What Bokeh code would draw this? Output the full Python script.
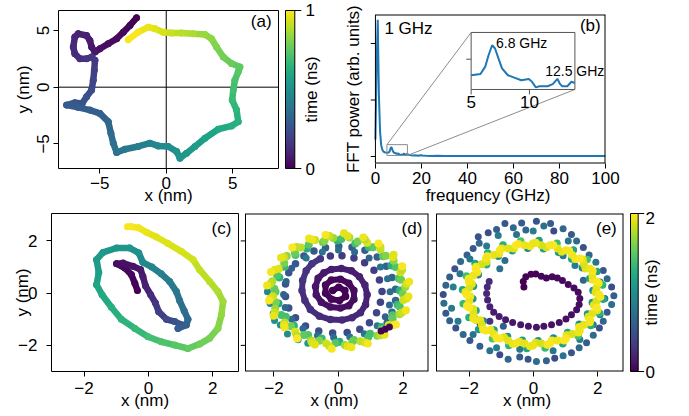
import numpy as np
from bokeh.plotting import figure
from bokeh.models import ColumnDataSource, Range1d, FixedTicker, Span, LinearColorMapper
from bokeh.transform import linear_cmap
from bokeh.palettes import Viridis256
from bokeh.layouts import row, column
from bokeh.embed import file_html
from bokeh.resources import INLINE
from bokeh.core.properties import value

FONT = "Liberation Sans"
FS = "17px"

# ---------------- (a) trajectory, 1 ns ----------------
a_x = [-2.23, -2.73, -3.23, -3.73, -4.36, -4.99, -5.36, -5.61, -5.74, -5.99, -6.62, -6.87, -6.99, -6.87,
       -6.49, -5.99, -5.61, -5.36, -5.41, -5.49, -5.61, -5.99, -6.32, -6.87, -7.49, -6.62, -5.74, -4.99,
       -4.36, -4.16, -3.98, -3.73, -3.11, -2.11, -1.23, -0.60, 0.15, 0.78, 1.03, 1.53, 2.16, 2.91, 3.91,
       4.91, 5.41, 5.29, 4.96, 5.04, 5.16, 5.41, 5.54, 4.91, 4.29, 3.78, 3.41, 2.91, 2.03, 1.15, 0.40,
       -0.23, -0.85, -1.35, -2.11, -2.86]
a_y = [6.11, 5.44, 4.85, 4.27, 3.83, 3.39, 3.10, 3.54, 4.12, 4.56, 4.71, 4.42, 3.54, 2.95, 2.51, 2.51,
       2.66, 2.37, 1.49, 0.61, -0.26, -0.85, -1.43, -1.37, -1.58, -1.78, -2.02, -2.31, -3.04, -4.06,
       -4.94, -5.76, -5.47, -5.23, -4.94, -5.18, -5.23, -5.67, -6.26, -5.82, -5.23, -4.50, -3.71, -3.42,
       -3.04, -2.02, -1.14, -0.26, 0.61, 1.35, 1.78, 2.08, 2.66, 3.54, 4.27, 4.65, 4.71, 4.77, 4.77,
       4.85, 5.15, 5.29, 4.85, 4.18]
a_t = [0.00, 0.01, 0.02, 0.03, 0.04, 0.05, 0.06, 0.07, 0.08, 0.09, 0.10, 0.11, 0.12, 0.13, 0.14, 0.15,
       0.16, 0.17, 0.19, 0.21, 0.23, 0.25, 0.26, 0.27, 0.28, 0.29, 0.30, 0.31, 0.33, 0.35, 0.37, 0.38,
       0.40, 0.43, 0.45, 0.47, 0.49, 0.51, 0.52, 0.54, 0.56, 0.58, 0.61, 0.63, 0.64, 0.66, 0.68, 0.70,
       0.72, 0.74, 0.75, 0.77, 0.79, 0.81, 0.83, 0.85, 0.88, 0.90, 0.92, 0.94, 0.96, 0.97, 0.99, 1.00]

# ---------------- (b) FFT ----------------
freq = [0.0, 0.5, 1.0, 1.5, 2.0, 2.5, 3.0, 3.5, 4.0, 4.5, 5.0, 5.8, 6.2, 6.5, 6.8, 7.05, 7.35, 7.65,
        8.15, 8.7, 9.3, 9.95, 10.2, 10.55, 10.85, 11.55, 12.0, 12.4, 12.6, 12.8, 13.25, 13.6, 13.9,
        14.5, 15.5, 16.5, 17.5, 18.5, 19.5, 20.5, 22, 24, 27, 30, 35, 40, 45, 50, 55, 60, 65, 70, 75,
        80, 85, 90, 95, 100]
power = [0.30, 1.60, 2.42, 1.10, 0.45, 0.20, 0.12, 0.085, 0.075, 0.07, 0.066, 0.070, 0.094, 0.134,
         0.167, 0.156, 0.122, 0.089, 0.066, 0.058, 0.049, 0.053, 0.045, 0.025, 0.029, 0.029, 0.036,
         0.054, 0.038, 0.029, 0.029, 0.044, 0.040, 0.030, 0.022, 0.018, 0.020, 0.014, 0.022, 0.016,
         0.012, 0.010, 0.012, 0.008, 0.010, 0.007, 0.009, 0.008, 0.010, 0.007, 0.009, 0.008, 0.010,
         0.007, 0.009, 0.008, 0.010, 0.008]
inset_xlim = [5.0, 13.9]
inset_ylim = [0.018, 0.21]
inset_xticks = [5, 10]
inset_yticks = [0.12]

# ---------------- (c) trajectory, 1 ns ----------------
c_x = [-0.34, -0.42, -0.53, -0.73, -0.99, -0.79, -0.48, -0.24, -0.17, -0.09, 0.07, 0.22, 0.32, 0.56,
       0.82, 1.05, 0.92, 1.18, 1.23, 1.11, 0.97, 0.87, 0.66, 0.40, 0.11, -0.17, -0.30, -0.58, -0.99,
       -1.41, -1.61, -1.54, -1.61, -1.44, -1.15, -0.84, -0.42, -0.01, 0.40, 0.82, 1.23, 1.59, 1.90,
       2.16, 2.27, 2.32, 2.16, 1.90, 1.59, 1.39, 1.02, 0.61, 0.25, -0.06, -0.30, -0.53, -0.65]
c_y = [0.10, 0.38, 0.71, 0.96, 1.13, 1.15, 1.03, 0.90, 0.64, 0.28, -0.06, -0.38, -0.71, -1.00, -1.09,
       -1.22, -1.35, -1.22, -1.00, -0.67, -0.28, 0.06, 0.45, 0.74, 1.00, 1.18, 1.54, 1.73, 1.73, 1.56,
       1.28, 0.79, 0.32, -0.06, -0.54, -1.00, -1.35, -1.67, -1.86, -1.99, -2.12, -1.95, -1.73, -1.35,
       -0.83, -0.32, 0.06, 0.45, 0.90, 1.28, 1.60, 1.90, 2.15, 2.33, 2.50, 2.54, 2.54]
c_t = [0.00, 0.01, 0.02, 0.03, 0.04, 0.05, 0.06, 0.07, 0.08, 0.10, 0.13, 0.16, 0.19, 0.22, 0.25, 0.28,
       0.30, 0.32, 0.34, 0.36, 0.38, 0.40, 0.42, 0.44, 0.46, 0.48, 0.50, 0.52, 0.53, 0.54, 0.55, 0.57,
       0.59, 0.61, 0.63, 0.65, 0.67, 0.70, 0.72, 0.74, 0.76, 0.78, 0.80, 0.82, 0.84, 0.86, 0.88, 0.90,
       0.91, 0.93, 0.94, 0.95, 0.96, 0.97, 0.98, 0.99, 1.00]

# ---------------- (d) trajectory, 2 ns ----------------
d_sp_x = [-0.18, 0.01, 0.20, 0.22, 0.03, -0.22, -0.40, -0.40, -0.22, 0.06, 0.32, 0.48, 0.48, 0.32,
          0.06, -0.25, -0.53, -0.69, -0.71, -0.63, -0.45, -0.22, 0.09, 0.40, 0.65, 0.82, 0.89, 0.84,
          0.68, 0.42, 0.11, -0.25, -0.59, -0.87, -1.04, -1.13, -1.11, -1.00, -0.82, -0.56, -0.25, 0.11,
          0.48, 0.81, 1.10, 1.27, 1.35, 1.30, 1.18, 0.96, 0.66, 0.27, -0.18, -0.61, -1.02, -1.33, -1.54,
          -1.64, -1.64, -1.54, -1.33, -1.07, -0.76, -0.40, 0.01, 0.42, 0.82, 1.20, 1.48, 1.66, 1.77,
          1.77, 1.66, 1.51]
d_sp_y = [0.10, 0.23, 0.10, -0.13, -0.28, -0.23, 0.00, 0.31, 0.50, 0.53, 0.38, 0.10, -0.23, -0.48,
          -0.57, -0.53, -0.35, -0.06, 0.25, 0.57, 0.78, 0.91, 0.94, 0.86, 0.63, 0.31, -0.06, -0.44,
          -0.75, -0.94, -1.03, -1.01, -0.88, -0.63, -0.28, 0.10, 0.48, 0.86, 1.13, 1.32, 1.42, 1.43,
          1.35, 1.16, 0.88, 0.50, 0.06, -0.35, -0.75, -1.13, -1.38, -1.51, -1.53, -1.45, -1.26, -0.94,
          -0.57, -0.13, 0.35, 0.78, 1.13, 1.42, 1.61, 1.74, 1.80, 1.76, 1.64, 1.38, 1.03, 0.60, 0.15,
          -0.28, -0.73, -1.13]
d_sp_t = [0.00, 0.01, 0.01, 0.02, 0.02, 0.03, 0.03, 0.04, 0.04, 0.05, 0.05, 0.06, 0.07, 0.07, 0.08,
          0.09, 0.10, 0.11, 0.12, 0.13, 0.14, 0.15, 0.16, 0.17, 0.18, 0.19, 0.20, 0.21, 0.22, 0.23,
          0.24, 0.25, 0.26, 0.27, 0.28, 0.29, 0.30, 0.31, 0.32, 0.33, 0.34, 0.35, 0.36, 0.37, 0.38,
          0.39, 0.40, 0.41, 0.42, 0.43, 0.44, 0.45, 0.46, 0.47, 0.48, 0.49, 0.50, 0.51, 0.52, 0.53,
          0.55, 0.56, 0.57, 0.58, 0.59, 0.60, 0.61, 0.62, 0.63, 0.64, 0.65, 0.66, 0.67, 0.68]
d_mid_x = [-1.45, -1.62, -1.70, -1.65, -1.45, -1.10, -0.65, -0.15, 0.35, 0.80, 1.20, 1.45, 1.58, 1.60,
           1.52, 1.30, 0.95, 0.50, 0.00, -0.50, -1.00]
d_mid_y = [0.95, 0.45, -0.05, -0.55, -1.00, -1.35, -1.62, -1.70, -1.68, -1.55, -1.25, -0.90, -0.45,
           0.05, 0.55, 1.00, 1.35, 1.58, 1.65, 1.58, 1.35]
d_mid_t = [0.60, 0.62, 0.64, 0.66, 0.68, 0.70, 0.72, 0.74, 0.76, 0.78, 0.80, 0.62, 0.66, 0.70, 0.74,
           0.78, 0.64, 0.68, 0.72, 0.76, 0.80]
d_teal_x = [-2.12, -2.02, -1.80, -1.58, -1.25, -0.95, -2.20, -1.98]
d_teal_y = [-0.40, -0.78, -1.22, -1.56, -1.78, -1.92, 0.05, -1.05]
d_teal_t = [0.95, 1.00, 1.05, 0.98, 1.02, 1.08, 0.92, 1.00]
d_r1_x = [1.90, 1.87, 1.64, 1.38, 0.94, 0.52, -0.03, -0.48, -0.98, -1.33, -1.68, -1.83, -1.95, -1.86,
          -1.63, -1.38, -0.94, -0.52, 0.03, 0.48, 0.98, 1.34, 1.68, 1.83]
d_r1_y = [0.10, 0.56, 1.06, 1.41, 1.76, 1.90, 2.02, 1.95, 1.71, 1.46, 1.01, 0.60, 0.05, -0.40, -0.90,
          -1.25, -1.60, -1.74, -1.86, -1.79, -1.55, -1.30, -0.85, -0.44]
d_r1_t = [1.30, 1.45, 1.25, 1.50, 1.35, 1.40, 1.30, 1.55, 1.25, 1.45, 1.35, 1.30, 1.50, 1.20, 1.40,
          1.30, 1.45, 1.35, 1.25, 1.50, 1.40, 1.30, 1.45, 1.35]
d_r5_x = [1.94, 1.77, 1.47, 1.07, 0.60, 0.09, -0.43, -0.92, -1.35, -1.68, -1.90, -1.99, -1.94, -1.77,
          -1.47, -1.07, -0.60, -0.09, 0.43, 0.92, 1.35, 1.68, 1.90, 1.99]
d_r5_y = [0.51, 1.00, 1.43, 1.76, 1.98, 2.07, 2.02, 1.85, 1.55, 1.15, 0.68, 0.17, -0.35, -0.84, -1.27,
          -1.60, -1.82, -1.91, -1.86, -1.69, -1.39, -0.99, -0.52, -0.01]
d_r5_t = [1.55, 1.45, 1.62, 1.50, 1.58, 1.40, 1.65, 1.48, 1.55, 1.60, 1.45, 1.52, 1.60, 1.42, 1.58,
          1.50, 1.63, 1.47, 1.55, 1.40, 1.60, 1.52, 1.45, 1.57]
d_r2_x = [2.07, 1.92, 1.71, 1.30, 0.89, 0.34, -0.16, -0.72, -1.16, -1.60, -1.85, -2.05, -2.03, -1.96,
          -1.67, -1.34, -0.85, -0.38, 0.20, 0.68, 1.20, 1.56, 1.89, 2.01]
d_r2_y = [0.24, 0.80, 1.24, 1.68, 1.93, 2.13, 2.11, 2.04, 1.75, 1.42, 0.93, 0.46, -0.12, -0.60, -1.12,
          -1.48, -1.81, -1.93, -1.99, -1.84, -1.63, -1.22, -0.81, -0.26]
d_r2_t = [1.70, 1.85, 1.65, 1.80, 1.90, 1.75, 1.70, 1.85, 1.80, 1.65, 1.90, 1.75, 1.85, 1.70, 1.80,
          1.90, 1.75, 1.85, 1.70, 1.80, 1.65, 1.90, 1.75, 1.85]
d_r4_x = [2.11, 1.97, 1.69, 1.30, 0.82, 0.28, -0.28, -0.82, -1.30, -1.69, -1.97, -2.11, -2.11, -1.97,
          -1.69, -1.30, -0.82, -0.28, 0.28, 0.82, 1.30, 1.69, 1.97, 2.11]
d_r4_y = [0.36, 0.90, 1.38, 1.77, 2.05, 2.19, 2.19, 2.05, 1.77, 1.38, 0.90, 0.36, -0.20, -0.74, -1.22,
          -1.61, -1.89, -2.03, -2.03, -1.89, -1.61, -1.22, -0.74, -0.20]
d_r4_t = [1.88, 1.80, 1.92, 1.85, 1.78, 1.90, 1.83, 1.95, 1.80, 1.87, 1.92, 1.82, 1.89, 1.85, 1.93,
          1.80, 1.88, 1.84, 1.91, 1.86, 1.79, 1.90, 1.84, 1.88]
d_r3_x = [2.19, 1.97, 1.71, 1.24, 0.77, 0.17, -0.40, -0.91, -1.43, -1.78, -2.09, -2.21, -2.15, -2.01,
          -1.67, -1.28, -0.73, -0.21, 0.40, 0.91, 1.43, 1.78, 2.09, 2.17]
d_r3_y = [0.44, 1.03, 1.47, 1.90, 2.13, 2.29, 2.23, 2.09, 1.75, 1.36, 0.81, 0.29, -0.28, -0.87, -1.31,
          -1.74, -1.97, -2.13, -2.07, -1.93, -1.59, -1.20, -0.65, -0.13]
d_r3_t = [1.95, 1.98, 1.90, 2.00, 1.95, 1.92, 1.98, 1.95, 2.00, 1.93, 1.97, 1.95, 1.99, 1.94, 1.96,
          2.00, 1.92, 1.98, 1.95, 1.97, 1.93, 2.00, 1.96, 1.94]
d_dark_x = [1.32, 1.45, 1.58]
d_dark_y = [-1.45, -1.38, -1.30]
d_dark_t = [0.02, 0.02, 0.03]

# ---------------- (e) trajectory, 2 ns ----------------
e_in_x = [-0.30, -0.32, -0.24, -0.08, 0.07, 0.24, 0.40, 0.58, 0.74, 0.90, 1.08, 1.26, 1.39, 1.44, 1.42,
          1.34, 1.18, 1.01, 0.80, 0.56, 0.32, 0.09, -0.16, -0.40, -0.65, -0.87, -1.07, -1.24, -1.36,
          -1.43, -1.46, -1.44, -1.38]
e_in_y = [0.24, 0.45, 0.63, 0.72, 0.73, 0.65, 0.58, 0.63, 0.58, 0.48, 0.33, 0.20, 0.03, -0.20, -0.43,
          -0.64, -0.83, -0.99, -1.12, -1.21, -1.27, -1.31, -1.27, -1.21, -1.12, -1.02, -0.89, -0.73,
          -0.52, -0.26, -0.01, 0.24, 0.45]
e_in_t = [0.00, 0.01, 0.01, 0.02, 0.02, 0.03, 0.03, 0.04, 0.04, 0.05, 0.05, 0.06, 0.06, 0.07, 0.07,
          0.08, 0.08, 0.09, 0.09, 0.10, 0.10, 0.11, 0.11, 0.12, 0.13, 0.14, 0.15, 0.16, 0.18, 0.20,
          0.22, 0.24, 0.26]
e_out_x = [-0.89, -1.15, -1.41, -0.63, -0.37, -0.24, 0.09, 0.32, 0.53, 0.63, 0.92, 1.18, 1.34, 1.55,
           1.73, 1.94, 2.17, 2.29, 2.43, 2.50, 2.43, 2.29, 2.17, 2.05, 1.86, 1.65, 1.42, 1.18, 0.92,
           0.66, 0.40, 0.09, -0.17, -0.43, -0.79, -1.05, -1.36, -1.67, -1.98, -2.19, -2.42, -2.61,
           -2.73, -2.79, -2.81, -2.73, -2.61, -2.45, -2.27, -2.07, -1.88, -1.69, -1.72, -1.10, -0.53,
           -0.01, 1.08, 2.07, 2.22, 2.07, 1.86, 1.44, 0.61, -0.43, -1.15, -1.88, -2.35, -2.55, -2.50,
           -2.29, -1.98, -1.46]
e_out_y = [2.67, 2.44, 2.31, 2.50, 2.69, 2.42, 2.75, 2.57, 2.67, 2.38, 2.47, 2.25, 2.00, 1.75, 1.46,
           1.18, 0.87, 0.55, 0.24, -0.10, -0.43, -0.73, -1.08, -1.33, -1.61, -1.90, -2.09, -2.28,
           -2.40, -2.49, -2.59, -2.62, -2.53, -2.44, -2.53, -2.36, -2.21, -2.03, -1.81, -1.58, -1.33,
           -1.06, -0.77, -0.39, -0.05, 0.30, 0.62, 0.93, 1.21, 1.46, 1.71, 1.91, 2.16, 2.21, 2.25,
           2.38, 2.00, 0.43, -0.20, -0.83, -1.21, -1.77, -2.21, -2.15, -2.09, -1.58, -1.08, -0.58,
           0.24, 0.74, 1.31, 1.81]
e_out_t = [0.55, 0.62, 0.48, 0.70, 0.58, 0.66, 0.52, 0.75, 0.60, 0.45, 0.68, 0.56, 0.72, 0.50, 0.64,
           0.78, 0.54, 0.69, 0.47, 0.61, 0.73, 0.57, 0.65, 0.49, 0.71, 0.59, 0.67, 0.53, 0.76, 0.46,
           0.63, 0.70, 0.51, 0.58, 0.66, 0.44, 0.74, 0.60, 0.55, 0.68, 0.50, 0.62, 0.57, 0.72, 0.48,
           0.65, 0.59, 0.53, 0.70, 0.61, 0.56, 0.66, 0.52, 0.80, 0.74, 0.85, 0.78, 0.82, 0.76, 0.88,
           0.79, 0.84, 0.77, 0.81, 0.86, 0.75, 0.83, 0.79, 0.87, 0.80, 0.78, 0.84]
e_mid_x = [-0.89, -1.05, 0.92, 1.29, 1.55, 1.70, -0.94, -1.36, -1.83, -1.67]
e_mid_y = [1.25, 0.93, 1.43, 1.06, 0.49, -0.83, -1.27, -1.08, -0.96, -1.14]
e_mid_t = [0.70, 0.75, 0.80, 0.85, 0.65, 0.90, 0.60, 0.30, 0.25, 0.28]
e_rA_x = [1.85, 1.75, 1.52, 1.19, 0.78, 0.31, -0.18, -0.66, -1.10, -1.46, -1.72, -1.87, -1.89, -1.79,
          -1.56, -1.23, -0.81, -0.35, 0.14, 0.62, 1.06, 1.42, 1.68, 1.83]
e_rA_y = [0.10, 0.56, 0.97, 1.31, 1.56, 1.70, 1.72, 1.62, 1.41, 1.09, 0.70, 0.26, -0.21, -0.66, -1.07,
          -1.41, -1.66, -1.80, -1.82, -1.72, -1.51, -1.19, -0.80, -0.36]
e_rA_t = [1.00, 1.10, 0.95, 1.20, 1.05, 1.15, 0.90, 1.10, 1.00, 1.25, 0.95, 1.10, 1.05, 1.20, 0.90,
          1.15, 1.00, 1.10, 1.05, 0.95, 1.20, 1.00, 1.10, 1.05]
e_rC_x = [2.15, 1.97, 1.67, 1.24, 0.73, 0.17, -0.40, -0.95, -1.43, -1.82, -2.09, -2.21, -2.19, -2.01,
          -1.71, -1.28, -0.77, -0.21, 0.36, 0.91, 1.39, 1.78, 2.05, 2.17]
e_rC_y = [0.31, 0.83, 1.29, 1.65, 1.91, 2.02, 2.00, 1.84, 1.54, 1.14, 0.66, 0.13, -0.41, -0.93, -1.39,
          -1.75, -2.00, -2.12, -2.10, -1.94, -1.64, -1.24, -0.76, -0.23]
e_rC_t = [1.30, 1.15, 1.40, 1.20, 1.35, 1.10, 1.45, 1.25, 1.30, 1.15, 1.40, 1.20, 1.35, 1.25, 1.10,
          1.45, 1.30, 1.20, 1.35, 1.15, 1.40, 1.25, 1.30, 1.20]
e_rB4_x = [1.93, 1.84, 1.62, 1.30, 0.88, 0.40, -0.11, -0.61, -1.07, -1.46, -1.75, -1.92, -1.97, -1.88,
           -1.66, -1.34, -0.92, -0.44, 0.07, 0.57, 1.03, 1.42, 1.71, 1.88]
e_rB4_y = [0.03, 0.51, 0.94, 1.31, 1.59, 1.76, 1.80, 1.71, 1.51, 1.20, 0.80, 0.35, -0.13, -0.61, -1.04,
           -1.41, -1.69, -1.86, -1.90, -1.81, -1.61, -1.30, -0.90, -0.45]
e_rB4_t = [1.92, 1.95, 1.90, 1.97, 1.93, 1.89, 1.96, 1.91, 1.94, 1.88, 1.97, 1.92, 1.95, 1.90, 1.93,
           1.96, 1.91, 1.94, 1.89, 1.97, 1.92, 1.95, 1.90, 1.93]
e_rB2_x = [1.96, 1.83, 1.57, 1.20, 0.75, 0.24, -0.28, -0.79, -1.24, -1.61, -1.87, -2.00, -2.00, -1.87,
           -1.61, -1.24, -0.79, -0.28, 0.24, 0.75, 1.20, 1.57, 1.83, 1.96]
e_rB2_y = [0.20, 0.68, 1.11, 1.46, 1.71, 1.83, 1.83, 1.71, 1.46, 1.11, 0.68, 0.20, -0.30, -0.78, -1.21,
           -1.56, -1.81, -1.93, -1.93, -1.81, -1.56, -1.21, -0.78, -0.30]
e_rB2_t = [1.90, 1.93, 1.88, 1.95, 1.91, 1.86, 1.94, 1.90, 1.92, 1.87, 1.95, 1.89, 1.93, 1.91, 1.88,
           1.94, 1.90, 1.92, 1.86, 1.95, 1.89, 1.93, 1.91, 1.88]
e_rB3_x = [2.03, 1.84, 1.53, 1.11, 0.61, 0.07, -0.47, -0.99, -1.44, -1.79, -2.02, -2.12, -2.07, -1.88,
           -1.57, -1.15, -0.65, -0.11, 0.43, 0.95, 1.40, 1.75, 1.98, 2.08]
e_rB3_y = [0.38, 0.86, 1.29, 1.62, 1.84, 1.93, 1.88, 1.71, 1.41, 1.01, 0.55, 0.04, -0.48, -0.96, -1.39,
           -1.72, -1.94, -2.03, -1.98, -1.81, -1.51, -1.11, -0.65, -0.14]
e_rB3_t = [1.96, 1.99, 1.93, 1.98, 2.00, 1.95, 1.97, 1.94, 1.99, 1.96, 1.98, 1.93, 2.00, 1.95, 1.97,
           1.99, 1.94, 1.96, 1.98, 2.00, 1.95, 1.97, 1.93, 1.99]
e_rB_x = [2.04, 1.97, 1.76, 1.44, 1.01, 0.51, -0.02, -0.55, -1.05, -1.48, -1.80, -2.01, -2.08, -2.01,
          -1.80, -1.48, -1.05, -0.55, -0.02, 0.51, 1.01, 1.44, 1.76, 1.97]
e_rB_y = [-0.05, 0.45, 0.93, 1.33, 1.64, 1.83, 1.90, 1.83, 1.64, 1.33, 0.93, 0.45, -0.05, -0.55, -1.03,
          -1.43, -1.74, -1.93, -2.00, -1.93, -1.74, -1.43, -1.03, -0.55]
e_rB_t = [1.97, 1.99, 1.95, 2.00, 1.96, 1.98, 1.94, 2.00, 1.97, 1.95, 1.99, 1.96, 1.98, 2.00, 1.95,
          1.97, 1.99, 1.96, 1.94, 1.98, 2.00, 1.95, 1.97, 1.99]

# tick values
a_ticks = [-5, 0, 5]
b_xticks = [0, 20, 40, 60, 80, 100]
b_yticks = [0, 1, 2]
cde_ticks = [-2, 0, 2]


def no_align(p):
    try:
        p.frame_align = False
    except Exception:
        pass


def style_axes(p):
    for ax in p.axis:
        ax.axis_line_color = None
        ax.major_tick_in = 0
        ax.major_tick_out = 5
        ax.major_tick_line_color = "black"
        ax.minor_tick_line_color = None
        ax.major_label_text_font = FONT
        ax.major_label_text_font_size = FS
        ax.major_label_text_color = "black"
        ax.axis_label_text_font = FONT
        ax.axis_label_text_font_size = FS
        ax.axis_label_text_font_style = "normal"
        ax.axis_label_text_color = "black"


def base(width, height, xr, yr, left, right, top, bottom, yaxis=True, outline=True):
    p = figure(width=width, height=height, x_range=Range1d(*xr), y_range=Range1d(*yr),
               toolbar_location=None, output_backend="svg",
               y_axis_location="left" if yaxis else None,
               min_border_left=left, min_border_right=right,
               min_border_top=top, min_border_bottom=bottom,
               background_fill_color="white", border_fill_color="white")
    no_align(p)
    p.grid.visible = False
    p.outline_line_color = "black" if outline else None
    style_axes(p)
    return p


def box_with_left_ticks(p, x0, x1, y0, y1, ticks, tick_len):
    # frame drawn as glyphs: left edge inside the plotting area, other edges on its border
    p.segment(x0=[x0], y0=[y0], x1=[x0], y1=[y1], line_color="black", line_width=1)
    p.segment(x0=[x0, x0, x1], y0=[y0, y1, y0], x1=[x1, x1, x1], y1=[y0, y1, y1],
              line_color="black", line_width=2)
    n = len(ticks)
    p.segment(x0=[x0] * n, x1=[x0 - tick_len] * n, y0=ticks, y1=ticks, line_color="black",
              line_width=1)


def label(p, x, y, txt, size=FS, align="right", **kw):
    p.text(x=[x], y=[y], text=[txt], text_font=value(FONT), text_font_size=value(size),
           text_align=align, text_baseline="middle", text_color="black", **kw)


def dots(p, xs, ys, ts, tmax, size):
    src = ColumnDataSource(dict(x=xs, y=ys, t=ts))
    p.scatter("x", "y", source=src, size=size, marker="circle",
              fill_color=linear_cmap("t", Viridis256, 0, tmax), line_color=None)


def path(p, xs, ys, ts, tmax, width):
    src = ColumnDataSource(dict(x0=xs[:-1], y0=ys[:-1], x1=xs[1:], y1=ys[1:], t=ts[:-1]))
    p.segment("x0", "y0", "x1", "y1", source=src, line_width=width, line_cap="round",
              line_color=linear_cmap("t", Viridis256, 0, tmax))


def colorbar(width, height, bar_l, bar_r, top_px, bot_px, tmax, ticks, tick_len, lab_x, title_x):
    ppu = (bot_px - top_px) / tmax
    y1 = tmax + top_px / ppu
    p = figure(width=width, height=height, x_range=Range1d(0, width),
               y_range=Range1d(-(height - bot_px) / ppu, y1),
               x_axis_location=None, y_axis_location=None, toolbar_location=None,
               output_backend="svg", min_border=0, outline_line_color=None,
               background_fill_color="white", border_fill_color="white")
    no_align(p)
    p.grid.visible = False
    grad = np.linspace(0, tmax, 256).reshape(256, 1)
    p.image(image=[grad], x=bar_l, y=0, dw=bar_r - bar_l, dh=tmax,
            color_mapper=LinearColorMapper(palette=Viridis256, low=0, high=tmax))
    p.quad(left=[bar_l], right=[bar_r], bottom=[0], top=[tmax], fill_color=None,
           line_color="black", line_width=1)
    p.segment(x0=[bar_r] * len(ticks), x1=[bar_r + tick_len] * len(ticks), y0=ticks, y1=ticks,
              line_color="black", line_width=1)
    for t in ticks:
        if (y1 - t) * ppu < 12:
            # too close to the top edge: hang the label just below the edge
            p.text(x=[lab_x], y=[y1 - 3 / ppu], text=[str(t)], text_font=value(FONT),
                   text_font_size=value(FS), text_align="left", text_baseline="top",
                   text_color="black")
        else:
            p.text(x=[lab_x], y=[t], text=[str(t)], text_font=value(FONT),
                   text_font_size=value(FS), text_align="left", text_baseline="middle",
                   text_color="black")
    p.text(x=[title_x], y=[tmax / 2], text=["time (ns)"], angle=np.pi / 2, text_font=value(FONT),
           text_font_size=value(FS), text_align="center", text_baseline="middle", text_color="black")
    return p


TOP_H, BOT_H = 208, 208

# ---------------- panel (a) ----------------
pa = base(280, TOP_H, (-8.1, 8.44), (-7.17, 6.76), 58, 2, 10, 40)
pa.xaxis.ticker = FixedTicker(ticks=a_ticks)
pa.yaxis.ticker = FixedTicker(ticks=a_ticks)
pa.xaxis.axis_label = "x (nm)"
pa.yaxis.axis_label = "y (nm)"
pa.yaxis.major_label_orientation = "vertical"
pa.xaxis.major_label_standoff = 3
pa.xaxis.axis_label_standoff = -6
pa.yaxis.major_label_standoff = 4
pa.yaxis.axis_label_standoff = 2
pa.add_layout(Span(location=0, dimension="height", line_color="black", line_width=1, level="underlay"))
pa.add_layout(Span(location=0, dimension="width", line_color="black", line_width=1, level="underlay"))
dots(pa, a_x, a_y, a_t, 1.0, 7)
path(pa, a_x, a_y, a_t, 1.0, 6.5)
label(pa, 7.92, 5.75, "(a)")

cba = colorbar(60, TOP_H, 5, 14.3, 10, 168, 1, [0, 1], 6.5, 25, 31)

# ---------------- panel (b) ----------------
BX0, BX1 = 0.0, 100.0
BY0, BY1 = -0.124, 2.513
PPX = 233 / (BX1 - BX0)
PPY = 149 / (BY1 - BY0)
XR = (BX0 - 5 / PPX, BX1)
pb = base(349, TOP_H, XR, (BY0, BY1), 27, 84, 14, 45, outline=False)
pb.xaxis.ticker = FixedTicker(ticks=b_xticks)
pb.yaxis.ticker = FixedTicker(ticks=[])
pb.yaxis.major_tick_out = 0
pb.xaxis.axis_label = "frequency (GHz)"
pb.yaxis.axis_label = "FFT power (arb. units)"
pb.xaxis.major_label_standoff = 3
pb.xaxis.axis_label_standoff = -1
pb.yaxis.major_label_standoff = 0
pb.yaxis.axis_label_standoff = 8

# inset box in main-axis coordinates (layout)
IB = (41.6, 86.7, 1.186, 2.195)
sx = (inset_xlim[1] - inset_xlim[0]) / (IB[1] - IB[0])
sy = (inset_ylim[1] - inset_ylim[0]) / (IB[3] - IB[2])
pb.extra_x_ranges = {"ix": Range1d(inset_xlim[0] - (IB[0] - XR[0]) * sx, inset_xlim[0] + (XR[1] - IB[0]) * sx)}
pb.extra_y_ranges = {"iy": Range1d(inset_ylim[0] - (IB[2] - BY0) * sy, inset_ylim[0] + (BY1 - IB[2]) * sy)}

pb.line(freq, power, line_color="#1f77b4", line_width=2)
pb.quad(left=[inset_xlim[0]], right=[inset_xlim[1]], bottom=[inset_ylim[0]], top=[inset_ylim[1]],
        fill_color=None, line_color="#8c8c8c", line_width=1)
pb.segment(x0=[inset_xlim[0], inset_xlim[1]], y0=[inset_ylim[1], inset_ylim[0]],
           x1=[IB[0], IB[1]], y1=[IB[3], IB[2]], line_color="#8c8c8c", line_width=1)
pb.quad(left=[IB[0]], right=[IB[1]], bottom=[IB[2]], top=[IB[3]], fill_color="white",
        line_color="#555555", line_width=1)
fa = np.array(freq)
pw = np.array(power)
m = (fa >= inset_xlim[0]) & (fa <= inset_xlim[1])
pb.line(fa[m], pw[m], line_color="#1f77b4", line_width=2, x_range_name="ix", y_range_name="iy")
pb.segment(x0=inset_xticks, x1=inset_xticks, y0=[IB[2]] * 2, y1=[IB[2] - 5 / PPY] * 2,
           line_color="#555555", x_range_name="ix")
pb.segment(x0=[IB[0]], x1=[IB[0] - 5 / PPX], y0=inset_yticks, y1=inset_yticks,
           line_color="#555555", y_range_name="iy")
pb.text(x=inset_xticks, y=[IB[2] - 0.23] * 2, text=[str(t) for t in inset_xticks],
        text_font=value(FONT), text_font_size=value(FS), text_align="center",
        text_baseline="middle", text_color="black", x_range_name="ix")
label(pb, 3.9, 2.27, "1 GHz", align="left")
label(pb, 97.9, 2.32, "(b)")
label(pb, 52.4, 2.0, "6.8 GHz", size="14px", align="left")
label(pb, 73.8, 1.52, "12.5 GHz", size="14px", align="left")
box_with_left_ticks(pb, BX0, BX1, BY0, BY1, b_yticks, 5 / PPX)

# ---------------- bottom row ----------------
YR = (-3.0, 3.05)


def bottom_panel(width, xr, left, ylab):
    p = base(width, BOT_H, xr, YR, left, 2, 5, 45, yaxis=ylab, outline=ylab)
    p.xaxis.ticker = FixedTicker(ticks=cde_ticks)
    p.xaxis.axis_label = "x (nm)"
    p.xaxis.major_label_standoff = 5
    p.xaxis.axis_label_standoff = -6
    if ylab:
        p.yaxis.ticker = FixedTicker(ticks=cde_ticks)
        p.yaxis.axis_label = "y (nm)"
        p.yaxis.major_label_standoff = 9
        p.yaxis.axis_label_standoff = -17
    return p


pc = bottom_panel(240, (-3.01, 2.80), 51, True)
dots(pc, c_x, c_y, c_t, 1.0, 7)
path(pc, c_x, c_y, c_t, 1.0, 6.5)
label(pc, 2.58, 2.47, "(c)")

# (d): left strip of the plotting area holds the outward y ticks
DX = (-2.88, 2.79)
dppx = 183 / (DX[1] - DX[0])
pd = bottom_panel(190, (DX[0] - 5 / dppx, DX[1]), 0, False)
dots(pd, d_sp_x, d_sp_y, d_sp_t, 2.0, 7.5)
path(pd, d_sp_x[:40], d_sp_y[:40], d_sp_t[:40], 2.0, 6)
dots(pd, d_mid_x, d_mid_y, d_mid_t, 2.0, 7)
dots(pd, d_teal_x, d_teal_y, d_teal_t, 2.0, 7)
dots(pd, d_r1_x, d_r1_y, d_r1_t, 2.0, 8)
dots(pd, d_r5_x, d_r5_y, d_r5_t, 2.0, 8)
dots(pd, d_r2_x, d_r2_y, d_r2_t, 2.0, 8)
dots(pd, d_r4_x, d_r4_y, d_r4_t, 2.0, 8)
dots(pd, d_r3_x, d_r3_y, d_r3_t, 2.0, 8)
dots(pd, d_dark_x, d_dark_y, d_dark_t, 2.0, 7)
label(pd, 2.6, 2.47, "(d)")
box_with_left_ticks(pd, DX[0], DX[1], YR[0], YR[1], cde_ticks, 5 / dppx)

EX = (-3.02, 2.80)
eppx = 187 / (EX[1] - EX[0])
pe = bottom_panel(195, (EX[0] - 6 / eppx, EX[1]), 0, False)
dots(pe, e_out_x, e_out_y, e_out_t, 2.0, 7)
dots(pe, e_mid_x, e_mid_y, e_mid_t, 2.0, 7)
dots(pe, e_in_x, e_in_y, e_in_t, 2.0, 7)
dots(pe, e_rA_x, e_rA_y, e_rA_t, 2.0, 7.5)
dots(pe, e_rC_x, e_rC_y, e_rC_t, 2.0, 7.5)
dots(pe, e_rB4_x, e_rB4_y, e_rB4_t, 2.0, 8)
dots(pe, e_rB2_x, e_rB2_y, e_rB2_t, 2.0, 8)
dots(pe, e_rB3_x, e_rB3_y, e_rB3_t, 2.0, 8)
dots(pe, e_rB_x, e_rB_y, e_rB_t, 2.0, 8)
label(pe, 2.59, 2.47, "(e)")
box_with_left_ticks(pe, EX[0], EX[1], YR[0], YR[1], cde_ticks, 5 / eppx)

cbe = colorbar(64, BOT_H, 5, 12.7, 5, 163, 2, [0, 2], 6, 20, 26)

layout = column(row(pa, cba, pb), row(pc, pd, pe, cbe))
open("out.html", "w").write(file_html(layout, INLINE))
